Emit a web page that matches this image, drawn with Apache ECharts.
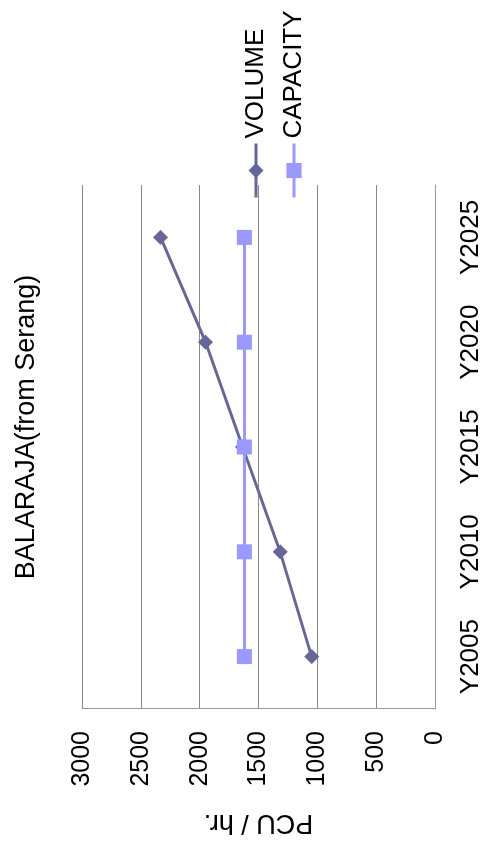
<!DOCTYPE html>
<html>
<head>
<meta charset="utf-8">
<script src="https://cdn.jsdelivr.net/npm/echarts@6/dist/echarts.min.js"></script>
<style>
  html, body { margin: 0; padding: 0; background: #fff; overflow: hidden; width: 484px; height: 854px; }
  /* The chart is laid out landscape and turned a quarter turn counter-clockwise onto the portrait page */
  #chart {
    position: absolute; left: 0; top: 0;
    width: 854px; height: 484px;
    transform-origin: 0 0;
    transform: translate(0, 854px) rotate(-90deg);
  }
</style>
</head>
<body>
<div id="chart"></div>
<script>
// Traffic at Balaraja (from Serang), PCU per hour
const years = ['Y2005', 'Y2010', 'Y2015', 'Y2020', 'Y2025'];
const volume = [1048, 1316, 1635, 1950, 2332];
const capacity = [1620, 1620, 1620, 1620, 1620];
const valueMin = 0;
const valueMax = 3000;
const valueStep = 500;

const chart = echarts.init(document.getElementById('chart'), null, { renderer: 'canvas' });

chart.setOption({
  animation: false,
  backgroundColor: '#fff',
  textStyle: { fontFamily: '"Liberation Sans", Arial, sans-serif', color: '#000' },
  title: {
    text: 'BALARAJA(from Serang)',
    left: 'center',
    top: 8,
    textStyle: { fontSize: 27, fontWeight: 'normal', color: '#000' }
  },
  legend: {
    orient: 'vertical',
    left: 650,
    top: 238,
    itemWidth: 54,
    itemHeight: 19,
    itemGap: 12,
    lineStyle: { width: 3 },
    textStyle: { fontSize: 26, color: '#000' },
    data: ['VOLUME', 'CAPACITY']
  },
  grid: { left: 145, right: 185, top: 82, bottom: 48 },
  xAxis: {
    type: 'category',
    data: years,
    boundaryGap: true,
    axisLine: { lineStyle: { color: '#999', width: 1 } },
    axisTick: { show: false },
    axisLabel: { fontSize: 26, color: '#000', margin: 23 }
  },
  yAxis: {
    type: 'value',
    min: valueMin,
    max: valueMax,
    interval: valueStep,
    name: 'PCU / hr.',
    nameLocation: 'middle',
    nameGap: 100,
    nameTextStyle: { fontSize: 27, color: '#000' },
    axisLine: { show: true, lineStyle: { color: '#999', width: 1 } },
    axisTick: { show: false },
    axisLabel: { fontSize: 25, color: '#000', margin: 22, formatter: (v) => String(v) },
    splitLine: { lineStyle: { color: '#888', width: 1 } }
  },
  series: [
    {
      name: 'VOLUME',
      type: 'line',
      data: volume,
      symbol: 'diamond',
      symbolSize: 15,
      lineStyle: { width: 3, color: '#666699' },
      itemStyle: { color: '#666699' }
    },
    {
      name: 'CAPACITY',
      type: 'line',
      data: capacity,
      symbol: 'rect',
      symbolSize: 15,
      lineStyle: { width: 3, color: '#9999FF' },
      itemStyle: { color: '#9999FF' }
    }
  ]
});
</script>
</body>
</html>
